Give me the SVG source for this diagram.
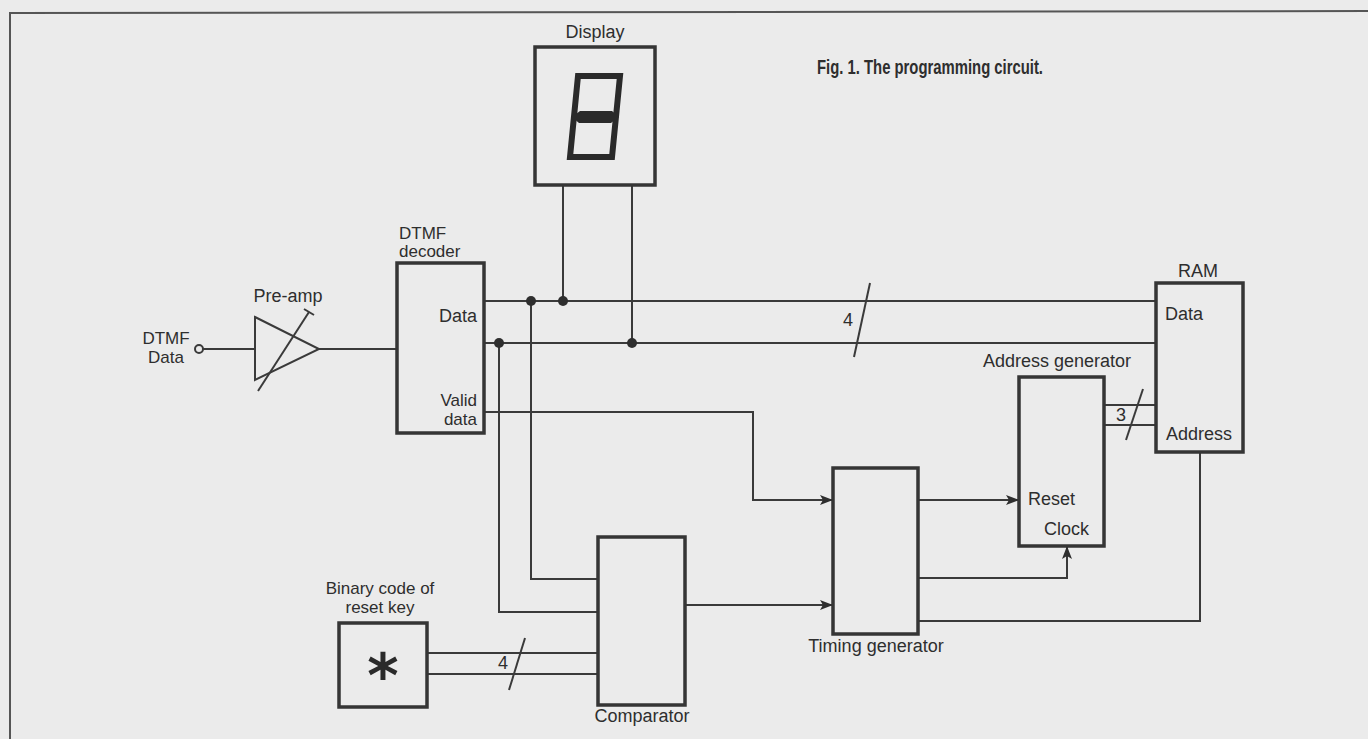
<svg xmlns="http://www.w3.org/2000/svg" width="1368" height="739" viewBox="0 0 1368 739">
<style>
.box{fill:none;stroke:#353535;stroke-width:3.5}
.w{fill:none;stroke:#3a3a3a;stroke-width:2}
.t{font-family:"Liberation Sans",Arial,sans-serif;font-size:18px;fill:#2e2e2e}
.s{font-size:17px}
.m{text-anchor:middle}
.e{text-anchor:end}
.dot{fill:#2e2e2e}
</style>
<defs>
<marker id="arr" markerUnits="userSpaceOnUse" markerWidth="13" markerHeight="10" refX="12" refY="5" orient="auto">
<path d="M0,0 L13,5 L0,10 L3,5 Z" fill="#2e2e2e"/>
</marker>
</defs>
<rect width="1368" height="739" fill="#ebebeb"/>
<path d="M10,739 L10,13 L1368,11" fill="none" stroke="#555" stroke-width="2"/>
<text class="t" x="817" y="74" style="font-weight:bold;font-family:'Liberation Sans Narrow','Liberation Sans',sans-serif;font-size:20px" textLength="226" lengthAdjust="spacingAndGlyphs">Fig. 1. The programming circuit.</text>

<g id="connectors">
<circle cx="199" cy="349" r="4" fill="none" stroke="#3a3a3a" stroke-width="2"/>
<line class="w" x1="203" y1="349" x2="255" y2="349"/>
<line class="w" x1="319" y1="349" x2="397" y2="349"/>
<line class="w" x1="484" y1="301" x2="1156" y2="301"/>
<line class="w" x1="484" y1="343" x2="1156" y2="343"/>
<line class="w" x1="563" y1="185" x2="563" y2="301"/>
<line class="w" x1="632" y1="185" x2="632" y2="343"/>
<line class="w" x1="870" y1="283" x2="854" y2="357"/>
<text class="t" x="843" y="326" font-size="16">4</text>
<polyline class="w" points="484,412 753,412 753,500 832,500" marker-end="url(#arr)"/>
<polyline class="w" points="531,301 531,579 598,579"/>
<polyline class="w" points="499,343 499,612 598,612"/>
<line class="w" x1="427" y1="653" x2="598" y2="653"/>
<line class="w" x1="427" y1="674" x2="598" y2="674"/>
<line class="w" x1="525" y1="638" x2="509" y2="690"/>
<text class="t" x="498" y="669" font-size="16">4</text>
<line class="w" x1="685" y1="605" x2="832" y2="605" marker-end="url(#arr)"/>
<line class="w" x1="918" y1="500" x2="1018" y2="500" marker-end="url(#arr)"/>
<polyline class="w" points="918,578 1067,578 1067,547" marker-end="url(#arr)"/>
<polyline class="w" points="918,621 1200,621 1200,452"/>
<line class="w" x1="1104" y1="405" x2="1156" y2="405"/>
<line class="w" x1="1104" y1="425" x2="1156" y2="425"/>
<line class="w" x1="1143" y1="389" x2="1126" y2="440"/>
<text class="t" x="1116" y="421" font-size="16">3</text>
<circle class="dot" cx="531" cy="301" r="5"/>
<circle class="dot" cx="563" cy="301" r="5"/>
<circle class="dot" cx="499" cy="343" r="5"/>
<circle class="dot" cx="632" cy="343" r="5"/>
</g>

<g id="input">
<text class="t s m" x="166" y="344">DTMF</text>
<text class="t s m" x="166" y="363">Data</text>
</g>

<g id="preamp">
<polygon points="255,317 319,349 255,380" fill="none" stroke="#3a3a3a" stroke-width="2"/>
<line class="w" x1="258" y1="391" x2="309" y2="312"/>
<line class="w" x1="304" y1="309" x2="314" y2="315"/>
<text class="t m" x="288" y="302">Pre-amp</text>
</g>

<g id="display">
<rect class="box" x="535" y="47" width="120" height="138"/>
<text class="t m" x="595" y="38">Display</text>
<polygon points="578,76 620,76 612,157 570,157" fill="none" stroke="#2a2a2a" stroke-width="6" stroke-linejoin="miter"/>
<polygon points="572,117 580,111 612,111 619,117 611,123 579,123" fill="#2a2a2a"/>
</g>

<g id="decoder">
<rect class="box" x="397" y="263" width="87" height="170"/>
<text class="t s" x="399" y="239">DTMF</text>
<text class="t s" x="399" y="257">decoder</text>
<text class="t e" x="477" y="322">Data</text>
<text class="t s e" x="477" y="406">Valid</text>
<text class="t s e" x="477" y="425">data</text>
</g>

<g id="ram">
<rect class="box" x="1156" y="283" width="87" height="169"/>
<text class="t m" x="1198" y="277">RAM</text>
<text class="t" x="1165" y="320">Data</text>
<text class="t" x="1166" y="440">Address</text>
</g>

<g id="address-generator">
<rect class="box" x="1019" y="377" width="85" height="169"/>
<text class="t m" x="1057" y="367">Address generator</text>
<text class="t" x="1028" y="505">Reset</text>
<text class="t" x="1044" y="535">Clock</text>
</g>

<g id="timing-generator">
<rect class="box" x="833" y="468" width="85" height="166"/>
<text class="t m" x="876" y="652">Timing generator</text>
</g>

<g id="comparator">
<rect class="box" x="598" y="537" width="87" height="168"/>
<text class="t m" x="642" y="722">Comparator</text>
</g>

<g id="reset-key">
<rect class="box" x="339" y="623" width="88" height="84"/>
<text class="t s m" x="380" y="594">Binary code of</text>
<text class="t s m" x="380" y="613">reset key</text>
<text x="383" y="697" text-anchor="middle" style="font-family:'DejaVu Sans',sans-serif;font-size:60px;font-weight:bold;fill:#2a2a2a">*</text>
</g>
</svg>
